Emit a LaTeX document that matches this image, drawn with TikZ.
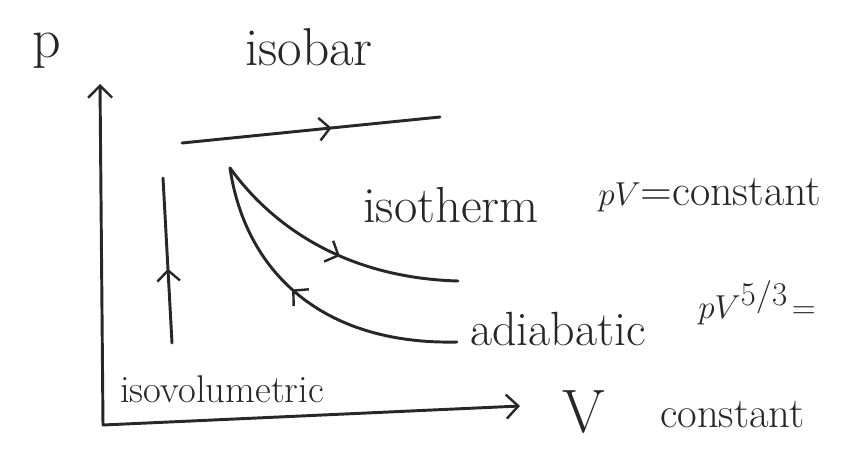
\documentclass[tikz,border=0pt]{standalone}
\usetikzlibrary{arrows.meta,decorations.markings}
\definecolor{ink}{HTML}{26262B}
\begin{document}
\begin{tikzpicture}[x=0.75pt,y=-0.75pt,
  pen/.style={draw=ink, line width=2.2pt, line cap=round, line join=round},
  barb/.style={-{Straight Barb[length=9pt,width=18pt,line width=1.8pt]}},
  midfwd/.style={postaction={decorate}, decoration={markings,
      mark=at position #1 with {\arrow{Straight Barb[length=8pt,width=17pt,line width=1.8pt]}}}},
  midback/.style={postaction={decorate}, decoration={markings,
      mark=at position #1 with {\arrowreversed{Straight Barb[length=8pt,width=17pt,line width=1.8pt]}}}},
  lbl/.style={text=ink, inner sep=0pt, anchor=base west}]
\useasboundingbox (0,0) rectangle (859,450);

% axes
\coordinate (O) at (103,425);
\coordinate (ptop) at (100,84);
\coordinate (vend) at (520,406);
\draw[pen,barb] (O) -- (ptop);
\draw[pen,barb] (O) -- (vend);

% process lines
\coordinate (ivb) at (172,343);
\coordinate (ivt) at (163,178);
\draw[pen,midfwd=0.45] (ivb) -- (ivt);

\coordinate (iba) at (182,143);
\coordinate (ibb) at (440,117);
\draw[pen,midfwd=0.58] (iba) -- (ibb);

\coordinate (S) at (230,168);
\coordinate (ithE) at (458,281);
\coordinate (adE) at (457,342);
\draw[pen,midfwd=0.54] (S) .. controls (275,230) and (350,278) .. (ithE);
\draw[pen,midback=0.44] (S) .. controls (245,270) and (320,345) .. (adE);

% labels
\node[lbl,font=\fontsize{42}{46}\selectfont] (p) at (32,57) {p};
\node[lbl,font=\fontsize{40}{44}\selectfont] (isobar) at (245,65) {isobar};
\node[lbl,font=\fontsize{38}{42}\selectfont] (isotherm) at (363,222) {isotherm};
\node[lbl,font=\fontsize{33}{37}\selectfont] (pvc) at (598,205) {$pV$=constant};
\node[lbl,font=\fontsize{36}{40}\selectfont] (adiabatic) at (470,345) {adiabatic};
\node[lbl,font=\fontsize{46}{50}\selectfont] (pvg) at (698,318) {$pV^{5/3}\!=$};
\node[lbl,font=\fontsize{29}{33}\selectfont] (isovol) at (120,402) {isovolumetric};
\node[lbl,font=\fontsize{46}{50}\selectfont] (V) at (562,432) {V};
\node[lbl,font=\fontsize{32}{36}\selectfont] (const) at (660,427) {constant};
\end{tikzpicture}
\end{document}
